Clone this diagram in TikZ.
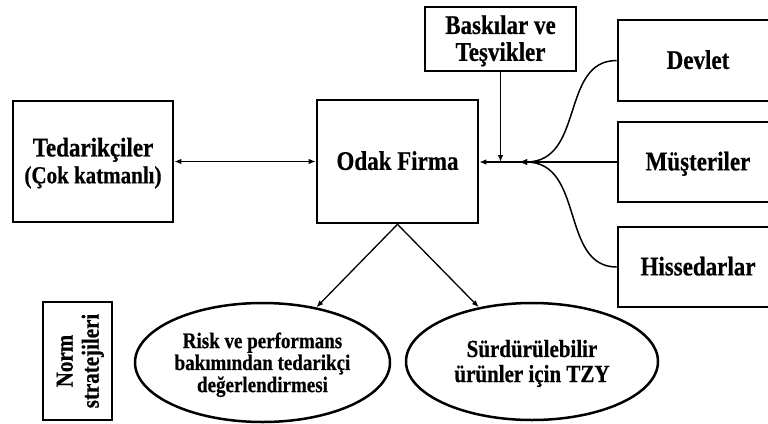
\documentclass[tikz,border=0pt]{standalone}
\usepackage{fontspec}
\setmainfont[BoldFeatures={FakeBold=0.6}]{Liberation Serif}
\usetikzlibrary{arrows.meta,shapes.geometric}
% stacked lines of text, drawn a little taller than the font's natural shape
% and set slightly lower to balance the strut below the last line
\newcommand\tallstack[1]{\raisebox{-3pt}[\height][\depth]{\scalebox{1}[1.17]{\begin{tabular}{@{}c@{}}#1\end{tabular}}}}
\begin{document}
\begin{tikzpicture}[x=1pt,y=-1pt,
  box/.style={draw,line width=2.6pt,inner sep=0pt,align=center,font=\bfseries\fontsize{23}{23}\selectfont},
  oval/.style={draw,ellipse,line width=2.5pt,inner sep=0pt,align=center},
  arr/.style={line width=1.3pt,-{Latex[length=7pt,width=5.5pt]}},
  curve/.style={line width=1.5pt,-{Latex[length=8pt,width=6pt]}}]
\useasboundingbox (0,0) rectangle (768,423);
\clip (0,0) rectangle (768,423);

% actors around the focal firm
\node[box,minimum width=160,minimum height=121] (ted) at (93,161.5)
  {\tallstack{Tedarikçiler\\{\fontsize{21}{23}\selectfont(Çok katmanlı)}}};
\node[box,minimum width=161,minimum height=123] (odak) at (397.5,161.5) {\tallstack{Odak Firma}};
\node[box,minimum width=151,minimum height=64] (bask) at (500.5,39) {\tallstack{Baskılar ve\\Teşvikler}};
\node[box,minimum width=160,minimum height=81] (dev) at (698,60.5) {\tallstack{Devlet}};
\node[box,minimum width=160,minimum height=80] (mus) at (698,162) {\tallstack{Müşteriler}};
\node[box,minimum width=160,minimum height=80] (his) at (698,267) {\tallstack{Hissedarlar}};

% strategies
\node[box,rotate=90,minimum width=118,minimum height=69,
  font=\bfseries\fontsize{21}{22.2}\selectfont] (norm) at (77.5,361) {\tallstack{Norm\\stratejileri}};
\node[oval,minimum width=255,minimum height=119,
  font=\bfseries\fontsize{19}{18.4}\selectfont] (risk) at (262.5,362.5)
  {\tallstack{Risk ve performans\\bakımından tedarikçi\\değerlendirmesi}};
\node[oval,minimum width=252,minimum height=117,
  font=\bfseries\fontsize{21}{21.4}\selectfont] (tzy) at (532,361.5)
  {\tallstack{Sürdürülebilir\\ürünler için TZY}};

% connectors
\coordinate (join) at (519,162);
\draw[line width=1.3pt,{Latex[length=7pt,width=5.5pt]}-{Latex[length=7pt,width=5.5pt]}]
  (ted.east) -- (odak.west |- ted.east);
\draw[arr] (mus.west) -- (odak.east |- mus.west);
\draw[arr] (bask.south) -- (bask.south |- mus.west);
\draw[curve] (dev.west) .. controls (560,60.5) and (585,162) .. (join);
\draw[curve] (his.west) .. controls (560,267) and (585,162) .. (join);
\draw[arr] (odak.south) -- (risk);
\draw[arr] (odak.south) -- (tzy);
\end{tikzpicture}
\end{document}
